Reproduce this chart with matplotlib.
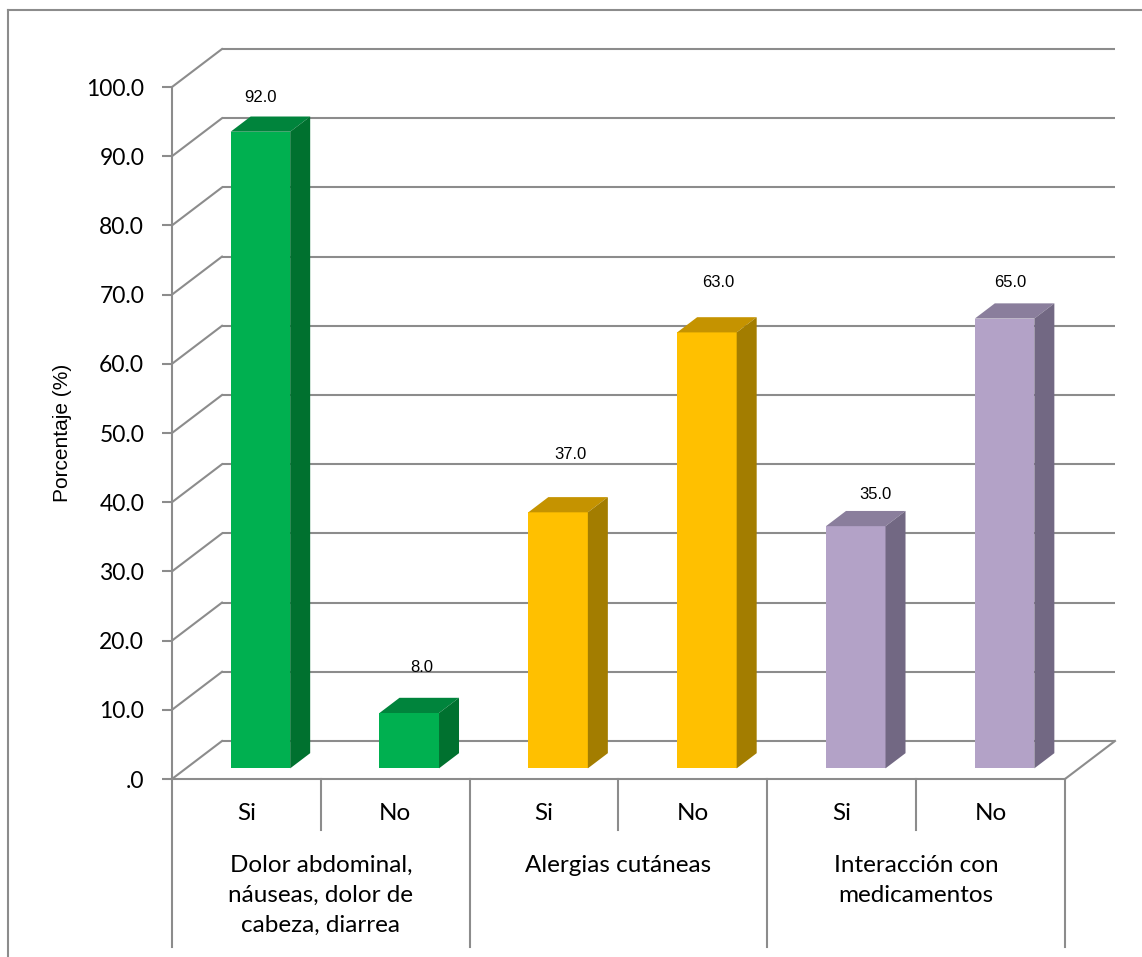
import matplotlib
matplotlib.use("Agg")
import matplotlib.pyplot as plt
from matplotlib.patches import Polygon
from matplotlib.lines import Line2D
import matplotlib.transforms as mtransforms

# ---- data -------------------------------------------------------------
responses = ["Si", "No", "Si", "No", "Si", "No"]
groups = [
    "Dolor abdominal,\nnáuseas, dolor de\ncabeza, diarrea",
    "Alergias cutáneas",
    "Interacción con\nmedicamentos",
]
percent = [92.0, 8.0, 37.0, 63.0, 35.0, 65.0]
y_ticks = [0, 10, 20, 30, 40, 50, 60, 70, 80, 90, 100]
y_tick_labels = [".0", "10.0", "20.0", "30.0", "40.0", "50.0",
                 "60.0", "70.0", "80.0", "90.0", "100.0"]
y_title = "Porcentaje (%)"

# ---- styling ----------------------------------------------------------
front_colors = ["#00B050", "#00B050", "#FFC000", "#FFC000", "#B3A2C7", "#B3A2C7"]
top_colors = ["#00843C", "#00843C", "#C59300", "#C59300", "#8A7E9C", "#8A7E9C"]
side_colors = ["#00712F", "#00712F", "#A37D00", "#A37D00", "#726883", "#726883"]
# value-label nudges (pixels) relative to the top of each column's front face
label_shift = [(0, 34), (13, 45), (12, 58), (11, 50), (20, 32), (6, 36)]

GRID = "#8C8C8C"
LW = 1.5
CAL = ["Lato", "DejaVu Sans"]
NARROW = ["Liberation Sans Narrow", "Liberation Sans", "DejaVu Sans"]

W, H = 1142, 957
fig = plt.figure(figsize=(W / 100, H / 100), dpi=100)
fig.patch.set_facecolor("white")

# front face of the plotting box
left_px, right_px, top_px, base_px = 172, 1065, 87, 779
ax = fig.add_axes([left_px / W, 1 - base_px / H,
                   (right_px - left_px) / W, (base_px - top_px) / H])
n = len(percent)
ax.set_xlim(0, n)
ax.set_ylim(0, 100)
ax.set_facecolor("none")
for side in ("top", "right", "bottom"):
    ax.spines[side].set_visible(False)
ax.spines["left"].set_color(GRID)
ax.spines["left"].set_linewidth(LW)
ax.set_xticks([])
ax.set_yticks(y_ticks, y_tick_labels)
ax.tick_params(axis="y", length=7, width=LW, color=GRID, pad=13,
               labelsize=16.5, labelcolor="black")
for t in ax.get_yticklabels():
    t.set_family(CAL)

# depth of the 3-D box expressed in data units
px_per_x = (right_px - left_px) / n
px_per_y = (base_px - top_px) / 100
DX = 50 / px_per_x
DY = 38 / px_per_y

# back wall gridlines and left wall diagonals
for v in y_ticks:
    ax.plot([DX, n + DX], [v + DY, v + DY], color=GRID, lw=LW,
            clip_on=False, zorder=1, solid_capstyle="butt")
    ax.plot([0, DX], [v, v + DY], color=GRID, lw=LW, clip_on=False, zorder=1)

# floor outline
ax.plot([0, n], [0, 0], color=GRID, lw=LW, clip_on=False, zorder=2)
ax.plot([n, n + DX], [0, DY], color=GRID, lw=LW, clip_on=False, zorder=2)

# 3-D columns
f_front, f_back = 0.28, 0.68
fx, fy = DX * f_front, DY * f_front
bx, by = DX * f_back, DY * f_back
width = 0.4
centers = [i + 0.5 for i in range(n)]
ax.bar([c + fx for c in centers], percent, width=width, bottom=fy,
       color=front_colors, linewidth=0, zorder=4)
for c, v, tc, sc in zip(centers, percent, top_colors, side_colors):
    x0, x1 = c - width / 2, c + width / 2
    top = Polygon([(x0 + fx, v + fy), (x1 + fx, v + fy),
                   (x1 + bx, v + by), (x0 + bx, v + by)],
                  closed=True, facecolor=tc, edgecolor="none", zorder=4,
                  clip_on=False)
    side = Polygon([(x1 + fx, fy), (x1 + bx, by), (x1 + bx, v + by),
                    (x1 + fx, v + fy)],
                   closed=True, facecolor=sc, edgecolor="none", zorder=4,
                   clip_on=False)
    ax.add_patch(top)
    ax.add_patch(side)

# value labels
for c, v, (sx, sy) in zip(centers, percent, label_shift):
    ax.annotate(f"{v:.1f}", xy=(c + fx, v + fy), xytext=(sx, sy),
                textcoords="offset pixels", ha="center", va="center",
                fontsize=12, family=NARROW, color="black",
                annotation_clip=False, zorder=6)

# category axis: dividers and labels
blend = mtransforms.blended_transform_factory(ax.transData, ax.transAxes)
ax_h = base_px - top_px
for i in range(n + 1):
    depth_px = 168 if i % 2 == 0 else 51
    ax.plot([i, i], [0, -depth_px / ax_h], color=GRID, lw=LW,
            transform=blend, clip_on=False, zorder=2)

for c, r in zip(centers, responses):
    ax.text(c, -34 / ax_h, r, transform=blend, ha="center", va="center",
            fontsize=17.5, family=CAL, color="black")

for g, name in enumerate(groups):
    ax.text(2 * g + 1, -76 / ax_h, name, transform=blend, ha="center",
            va="top", fontsize=17.5, family=CAL, color="black",
            linespacing=1.52, multialignment="center")

# y-axis title
fig.text(63 / W, 1 - 433 / H, y_title, rotation=90, ha="center",
         va="center", fontsize=15, family=NARROW, color="black")

# chart-area border (left and top edges are within the frame)
fig.add_artist(Line2D([8 / W, 8 / W], [0, 1 - 10 / H], color=GRID, lw=LW,
                      transform=fig.transFigure))
fig.add_artist(Line2D([8 / W, 1], [1 - 10 / H, 1 - 10 / H], color=GRID,
                      lw=LW, transform=fig.transFigure))

fig.savefig("out.png", dpi=100, facecolor="white")
